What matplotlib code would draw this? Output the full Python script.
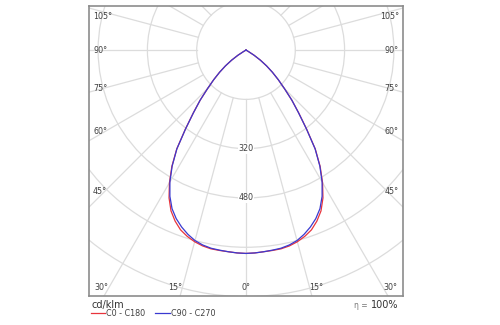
import numpy as np
import matplotlib
matplotlib.use("Agg")
import matplotlib.pyplot as plt
from matplotlib.patches import Circle
from matplotlib.lines import Line2D

# gamma angles (deg from nadir) and luminous intensity in cd/klm
gamma = [0, 2.5, 5, 7.5, 10, 12.5, 15, 17.5, 20, 22.5, 25, 27.5, 30, 32.5,
         35, 37.5, 40, 42.5, 45, 47.5, 50, 52.5, 55, 57.5, 60, 62.5, 65, 75, 90]
c0_c180 = [660, 659, 657, 656, 655, 651, 644, 634, 621, 601, 576, 541, 497, 448,
           392, 323, 266, 220, 176, 142, 112, 84, 57, 31, 8, 0, 0, 0, 0]
c90_c270 = [660, 659, 657, 655, 653, 648, 640, 627, 611, 592, 568, 535, 494, 446,
            391, 322, 265, 220, 176, 142, 112, 84, 57, 31, 8, 0, 0, 0, 0]

rings = [160, 320, 480, 640, 800, 960]
ring_labels = [320, 480]
spoke_step = 15
side_labels = ["105°", "90°", "75°", "60°", "45°"]
side_label_y = [16, 50, 88, 131, 192]          # pixel rows in the reference
bottom_labels = ["30°", "15°", "0°", "15°", "30°"]
bottom_label_x = [101, 175, 246, 316, 390]

red = "#e8343c"
blue = "#3a3ad0"
grid_c = "#dcdcdc"
txt_c = "#404040"

fig = plt.figure(figsize=(5, 3.25), dpi=100)
ax = fig.add_axes([89 / 500, 29 / 325, 314 / 500, 290 / 325])
ax.set_xlim(-509.6, 509.6)
ax.set_ylim(-798, 143)
ax.set_aspect("equal")
ax.set_xticks([])
ax.set_yticks([])
for s in ax.spines.values():
    s.set_color("#8c8c8c")
    s.set_linewidth(1.2)

# grid
for r in rings:
    ax.add_patch(Circle((0, 0), r, fill=False, ec=grid_c, lw=0.9, zorder=1))
for a in range(0, 360, spoke_step):
    t = np.radians(a)
    ax.plot([160 * np.sin(t), 1200 * np.sin(t)], [-160 * np.cos(t), -1200 * np.cos(t)],
            color=grid_c, lw=0.9, zorder=1)

for v in ring_labels:
    ax.text(0, -v, str(v), ha="center", va="center", fontsize=5.8, color=txt_c,
            bbox=dict(fc="white", ec="none", pad=0.6), zorder=2)


def polar_xy(g, i):
    g = np.radians(np.asarray(g, dtype=float))
    i = np.asarray(i, dtype=float)
    x = np.concatenate([-(i * np.sin(g))[::-1], (i * np.sin(g))[1:]])
    y = np.concatenate([-(i * np.cos(g))[::-1], -(i * np.cos(g))[1:]])
    return x, y


x0, y0 = polar_xy(gamma, c0_c180)
x1, y1 = polar_xy(gamma, c90_c270)
ax.plot(x0, y0, color=red, lw=0.9, zorder=3)
ax.plot(x1, y1, color=blue, lw=0.9, zorder=4)

# angle labels
for lab, py in zip(side_labels, side_label_y):
    fy = (296 - py) / 290
    ax.text(0.013, fy, lab, transform=ax.transAxes, ha="left", va="center",
            fontsize=5.8, color=txt_c)
    ax.text(0.987, fy, lab, transform=ax.transAxes, ha="right", va="center",
            fontsize=5.8, color=txt_c)
for lab, px in zip(bottom_labels, bottom_label_x):
    ax.text((px - 89) / 314, (296 - 288) / 290, lab, transform=ax.transAxes,
            ha="center", va="center", fontsize=5.8, color=txt_c)

# units, efficiency and legend
fig.text(92 / 500, 1 - 305 / 325, "cd/klm", fontsize=7, color="#333333",
         ha="left", va="center")
fig.text(398 / 500, 1 - 305 / 325, "100%", fontsize=7, color="#333333",
         ha="right", va="center")
fig.text(370 / 500, 1 - 305 / 325, "η = ", fontsize=5.5, color="#777777",
         ha="right", va="center")
ly = 1 - 313 / 325
fig.add_artist(Line2D([91 / 500, 105 / 500], [ly, ly], color=red, lw=0.9))
fig.text(106 / 500, ly, "C0 - C180", fontsize=5.8, color=txt_c, ha="left", va="center")
fig.add_artist(Line2D([155 / 500, 170 / 500], [ly, ly], color=blue, lw=0.9))
fig.text(171 / 500, ly, "C90 - C270", fontsize=5.8, color=txt_c, ha="left", va="center")

fig.savefig("out.png", dpi=100, facecolor="white")
